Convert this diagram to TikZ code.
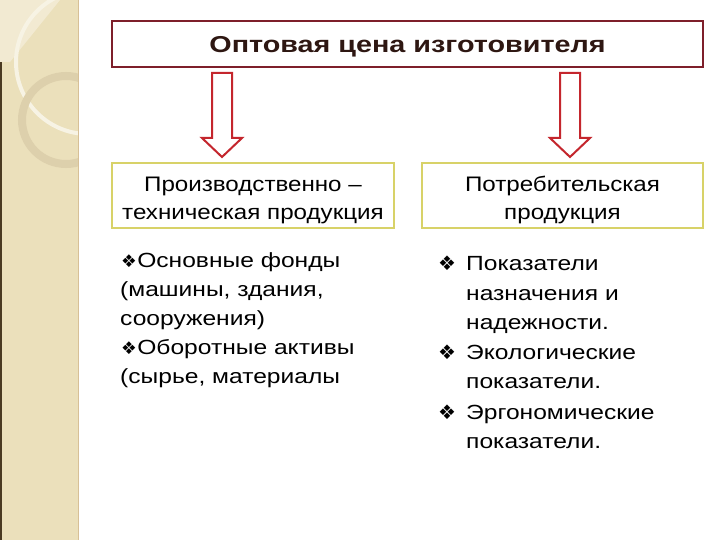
\documentclass[tikz,border=0pt]{standalone}
\usepackage{fontspec}
\setmainfont{Liberation Sans}
\newfontfamily\symfont{DejaVu Sans}
\newfontfamily\titlefont[FakeStretch=1.25]{Liberation Sans}
\newfontfamily\boxfont[FakeStretch=1.15]{Liberation Sans}
\newfontfamily\listfont[FakeStretch=1.2]{Liberation Sans}
\definecolor{stripc}{HTML}{EBE0BB}
\definecolor{stripl}{HTML}{F2EAD2}
\definecolor{ringc}{HTML}{DDD0AC}
\definecolor{darkedge}{HTML}{4A3A22}
\definecolor{titlered}{HTML}{7E1F2A}
\definecolor{titletext}{HTML}{2E1712}
\definecolor{arrowred}{HTML}{C4262D}
\definecolor{boxyellow}{HTML}{D8D268}
\tikzset{
  titlebox/.style={draw=titlered, line width=1.2pt, fill=white, inner sep=0pt,
    text height=16.5pt, text depth=0pt,
    font=\titlefont\fontsize{23}{26}\selectfont\bfseries, text=titletext},
  catbox/.style={draw=boxyellow, line width=2.5pt, fill=white, inner sep=0pt},
  boxline/.style={anchor=base, inner sep=0pt, font=\boxfont\fontsize{21}{24}\selectfont},
  listline/.style={anchor=base west, inner sep=0pt, font=\listfont\fontsize{20.5}{24}\selectfont},
  blockarrow/.style={draw=arrowred, line width=2pt, fill=white, line join=miter},
  bul/.style={anchor=base west, inner sep=0pt, font=\symfont\fontsize{20}{20}\selectfont},
  bulsmall/.style={bul, font=\symfont\fontsize{17.5}{20}\selectfont}
}
\begin{document}
\begin{tikzpicture}[x=1pt,y=-1pt]
\useasboundingbox (0,0) rectangle (720,540);
\fill[white] (0,0) rectangle (720,540);
% decorative strip
\fill[stripc] (0,0) rectangle (78,540);
\begin{scope}
  \clip (0,0) rectangle (78,540);
  \fill[stripl] (0,0) -- (60,0) -- (10,62) -- (0,62) -- cycle;
  \draw[stripl!60!white, line width=4pt] (88,62) circle (72);
  \draw[ringc, line width=8pt] (66,120) circle (44);
\end{scope}
\fill[darkedge] (0,62) rectangle (2,540);
\draw[ringc!80!brown, line width=1pt] (78,0) -- (78,540);
% title
\node[titlebox, minimum width=591pt, minimum height=46pt] (title) at (407.5,44) {Оптовая цена изготовителя};
% category boxes
\node[catbox, minimum width=282pt, minimum height=65pt] (left) at (253,195.5) {};
\node[boxline] (left1) at (253,192) {Производственно –};
\node[boxline] (left2) at (253,220) {техническая продукция};
\node[catbox, minimum width=281pt, minimum height=65pt] (right) at (562.5,195.5) {};
\node[boxline] (right1) at (562.5,192) {Потребительская};
\node[boxline] (right2) at (562.5,220) {продукция};
% block arrows
\draw[blockarrow] (212,73) -- (232,73) -- (232,138) -- (242,138) -- (222,157) -- (202,138) -- (212,138) -- cycle;
\draw[blockarrow] (560,73) -- (580,73) -- (580,138) -- (590,138) -- (570,157) -- (550,138) -- (560,138) -- cycle;
% left list
\node[bulsmall] (lb1) at (121,267) {❖};
\node[listline] (l1) at (lb1.base east) {Основные фонды};
\node[listline] (l2) at (120,296) {(машины, здания,};
\node[listline] (l3) at (120,325) {сооружения)};
\node[bulsmall] (lb2) at (121,354) {❖};
\node[listline] (l4) at (lb2.base east) {Оборотные активы};
\node[listline] (l5) at (120,383) {(сырье, материалы};
% right list
\node[bul] (rb1) at (438,270) {❖};
\node[listline] (r1) at (466,270) {Показатели};
\node[listline] (r2) at (466,300) {назначения и};
\node[listline] (r3) at (466,329) {надежности.};
\node[bul] (rb2) at (438,359) {❖};
\node[listline] (r4) at (466,359) {Экологические};
\node[listline] (r5) at (466,388) {показатели.};
\node[bul] (rb3) at (438,419) {❖};
\node[listline] (r6) at (466,419) {Эргономические};
\node[listline] (r7) at (466,448) {показатели.};
\end{tikzpicture}
\end{document}
